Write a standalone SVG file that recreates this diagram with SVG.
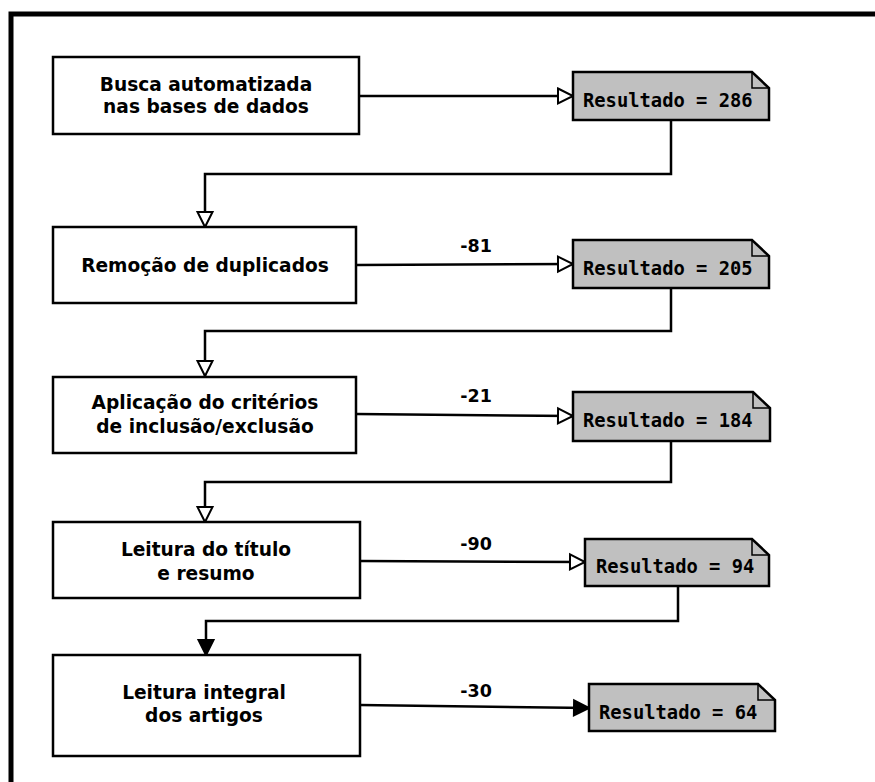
<svg xmlns="http://www.w3.org/2000/svg" width="875" height="782" viewBox="0 0 875 782">
<defs>
<style>
.box{fill:#fff;stroke:#000;stroke-width:2.5}
.note{fill:#c0c0c0;stroke:#000;stroke-width:2.5;stroke-linejoin:miter}
.fold{fill:none;stroke:#000;stroke-width:1.5}
.bt{font-family:"DejaVu Sans",sans-serif;font-weight:bold;font-size:18.6px;text-anchor:middle;fill:#000}
.nt{font-family:"DejaVu Sans Mono",monospace;font-weight:bold;font-size:18.8px;fill:#000}
.lbl{font-family:"DejaVu Sans",sans-serif;font-weight:bold;font-size:17.5px;text-anchor:middle;fill:#000}
.c{fill:none;stroke:#000;stroke-width:2.5}
.open{marker-end:url(#openArrow)}
.filled{marker-end:url(#fillArrow)}
</style>
<marker id="openArrow" markerUnits="userSpaceOnUse" viewBox="0 0 20 20" markerWidth="20" markerHeight="20" refX="17" refY="10" orient="auto">
<path d="M2,2.5 L17,10 L2,17.5 Z" fill="#fff" stroke="#000" stroke-width="2"/>
</marker>
<marker id="fillArrow" markerUnits="userSpaceOnUse" viewBox="0 0 20 20" markerWidth="20" markerHeight="20" refX="17" refY="10" orient="auto">
<path d="M2,2.5 L17,10 L2,17.5 Z" fill="#000" stroke="#000" stroke-width="2"/>
</marker>
</defs>
<rect width="875" height="782" fill="#fff"/>
<g id="frame">
<path d="M11,782 V14 H875" fill="none" stroke="#000" stroke-width="5"/>
</g>
<g id="connectors">
<path class="c open" d="M359,96 H573"/>
<path class="c open" d="M671,120 V174 H205 V227"/>
<path class="c open" d="M356,265 L573,264"/>
<path class="c open" d="M671,288 V331 H205 V376"/>
<path class="c open" d="M356,414 L573,416"/>
<path class="c open" d="M671,441 V482 H205 V522"/>
<path class="c open" d="M360,561 L585,562"/>
<path class="c filled" d="M678,586 V621 H206 V655"/>
<path class="c filled" d="M360,705 L589,708"/>
<text class="lbl" x="476" y="252">-81</text>
<text class="lbl" x="476" y="402">-21</text>
<text class="lbl" x="476" y="550">-90</text>
<text class="lbl" x="476" y="697">-30</text>
</g>
<g id="busca">
<rect class="box" x="53" y="57" width="306" height="77"/>
<text class="bt" x="206" y="91">Busca automatizada</text>
<text class="bt" x="206" y="113">nas bases de dados</text>
</g>
<g id="remocao">
<rect class="box" x="53" y="227" width="303" height="76"/>
<text class="bt" x="205" y="272">Remoção de duplicados</text>
</g>
<g id="aplicacao">
<rect class="box" x="53" y="377" width="303" height="76"/>
<text class="bt" x="205" y="409">Aplicação do critérios</text>
<text class="bt" x="205" y="433">de inclusão/exclusão</text>
</g>
<g id="leitura-titulo">
<rect class="box" x="53" y="522" width="307" height="76"/>
<text class="bt" x="206" y="556">Leitura do título</text>
<text class="bt" x="206" y="580">e resumo</text>
</g>
<g id="leitura-integral">
<rect class="box" x="53" y="655" width="307" height="101"/>
<text class="bt" x="204" y="699">Leitura integral</text>
<text class="bt" x="204" y="722">dos artigos</text>
</g>
<g id="res286">
<path class="note" d="M573,72 H752 L769,88 V120 H573 Z"/>
<path class="fold" d="M752,72 V88 H769"/>
<text class="nt" x="583" y="107">Resultado = 286</text>
</g>
<g id="res205">
<path class="note" d="M573,240 H752 L769,256 V288 H573 Z"/>
<path class="fold" d="M752,240 V256 H769"/>
<text class="nt" x="583" y="275">Resultado = 205</text>
</g>
<g id="res184">
<path class="note" d="M573,392 H753 L770,408 V441 H573 Z"/>
<path class="fold" d="M753,392 V408 H770"/>
<text class="nt" x="583" y="427">Resultado = 184</text>
</g>
<g id="res94">
<path class="note" d="M585,539 H752 L769,555 V586 H585 Z"/>
<path class="fold" d="M752,539 V555 H769"/>
<text class="nt" x="596" y="573">Resultado = 94</text>
</g>
<g id="res64">
<path class="note" d="M589,684 H758 L775,700 V731 H589 Z"/>
<path class="fold" d="M758,684 V700 H775"/>
<text class="nt" x="599" y="719">Resultado = 64</text>
</g>
</svg>
